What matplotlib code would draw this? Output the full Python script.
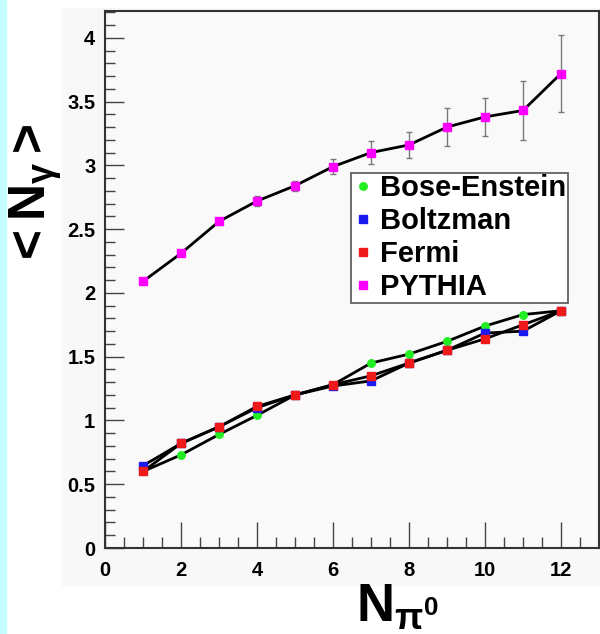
import matplotlib
matplotlib.use("Agg")
import matplotlib.pyplot as plt
from matplotlib.lines import Line2D
from matplotlib.patches import Rectangle
from matplotlib.ticker import MultipleLocator, FormatStrFormatter

n_pi0 = [1, 2, 3, 4, 5, 6, 7, 8, 9, 10, 11, 12]
bose_einstein = [0.60, 0.73, 0.89, 1.04, 1.20, 1.28, 1.45, 1.52, 1.62, 1.74, 1.83, 1.86]
boltzman = [0.645, 0.82, 0.95, 1.10, 1.20, 1.27, 1.31, 1.45, 1.55, 1.685, 1.70, 1.86]
fermi = [0.60, 0.82, 0.95, 1.11, 1.20, 1.28, 1.35, 1.45, 1.55, 1.64, 1.75, 1.86]
pythia = [2.09, 2.31, 2.56, 2.72, 2.84, 2.99, 3.10, 3.16, 3.30, 3.38, 3.43, 3.72]
pythia_err = [0.02, 0.02, 0.03, 0.04, 0.04, 0.06, 0.09, 0.10, 0.15, 0.15, 0.23, 0.30]
labels = ["Bose-Enstein", "Boltzman", "Fermi", "PYTHIA"]
colors = ["#22ee22", "#1a1aee", "#ee1a1a", "#ff00ff"]
markers = ["o", "s", "s", "s"]

plt.rcParams["font.family"] = ["Liberation Sans", "DejaVu Sans"]
plt.rcParams["mathtext.fontset"] = "custom"
plt.rcParams["mathtext.rm"] = "Liberation Sans:bold"
plt.rcParams["mathtext.it"] = "Liberation Sans:bold"
plt.rcParams["mathtext.bf"] = "Liberation Sans:bold"

W, H = 600, 634
fig = plt.figure(figsize=(W / 100, H / 100), dpi=100)
fig.patch.set_facecolor("white")

# light panel behind the frame and tick labels, cyan strip on the left edge
fig.patches.append(Rectangle((62 / W, 1 - 585 / H), 1 - 62 / W, (585 - 8) / H,
                             transform=fig.transFigure, color="#f8f8f8", zorder=-10))
fig.patches.append(Rectangle((0, 0), 6 / W, 1, transform=fig.transFigure,
                             color="#c3fdfd", zorder=-9))

ax = fig.add_axes([105 / W, 1 - 548 / H, (599 - 105) / W, (548 - 11) / H])
ax.set_facecolor("#f9f9f9")
ax.set_xlim(0, 13)
ax.set_ylim(0, 4.21)

series = [bose_einstein, boltzman, fermi]
for ys in series:
    ax.plot(n_pi0, ys, color="black", lw=2.0, zorder=2, solid_capstyle="round")
ax.plot(n_pi0, pythia, color="black", lw=2.0, zorder=2)
ax.errorbar(n_pi0, pythia, yerr=pythia_err, fmt="none", ecolor="#7a7a7a",
            elinewidth=1.0, capsize=2, capthick=1.0, zorder=1)

for ys, c, m in zip(series + [pythia], colors, markers):
    ax.plot(n_pi0, ys, linestyle="none", marker=m, markersize=5.4,
            markerfacecolor=c, markeredgecolor=c, zorder=3)

# ticks drawn inside, on left and bottom only
ax.xaxis.set_major_locator(MultipleLocator(2))
ax.xaxis.set_minor_locator(MultipleLocator(0.5))
ax.yaxis.set_major_locator(MultipleLocator(0.5))
ax.yaxis.set_minor_locator(MultipleLocator(0.1))
ax.yaxis.set_major_formatter(FormatStrFormatter("%g"))
ax.tick_params(which="major", direction="in", length=14, width=1.0, color="#444444",
               labelsize=14.5, pad=7)
ax.tick_params(which="minor", direction="in", length=7, width=1.0, color="#444444")
ax.tick_params(axis="x", which="major", length=19, pad=9)
ax.tick_params(axis="x", which="minor", length=8)
for lab in ax.get_xticklabels() + ax.get_yticklabels():
    lab.set_fontweight("bold")
for sp in ax.spines.values():
    sp.set_color("#333333")
    sp.set_linewidth(1.5)

handles = [Line2D([], [], linestyle="none", marker=m, markersize=5.4,
                  markerfacecolor=c, markeredgecolor=c)
           for c, m in zip(colors, markers)]
leg = fig.legend(handles, labels, loc="upper left",
                 bbox_to_anchor=(351 / W, 1 - 173 / H), bbox_transform=fig.transFigure,
                 frameon=True, fancybox=False, borderaxespad=0,
                 prop={"family": "Liberation Sans", "weight": "bold", "size": 21},
                 handlelength=0.7, handletextpad=0.25, labelspacing=0.17,
                 borderpad=0.05, framealpha=1)
leg.get_frame().set_edgecolor("#555555")
leg.get_frame().set_linewidth(1.2)

fig.text(398 / W, 1 - 607 / H, r"$N_{\pi^{0}}$", ha="center", va="center", fontsize=38)
fig.text(36 / W, 1 - 196 / H, r"$<N_{\gamma}>$", ha="center", va="center",
         rotation=90, fontsize=37)

fig.savefig("out.png", dpi=100)
